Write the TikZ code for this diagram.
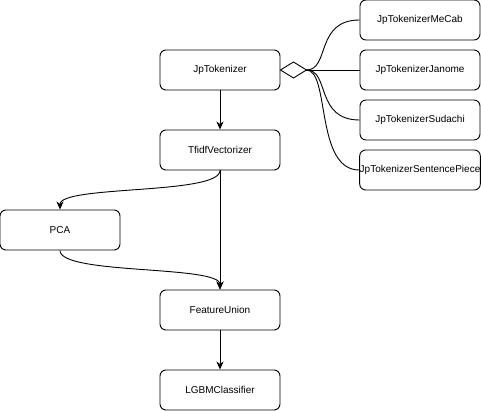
\documentclass[tikz,border=0pt]{standalone}
\usepackage{fontspec}
\setmainfont{Liberation Sans}
\usetikzlibrary{arrows.meta}
\begin{document}
\begin{tikzpicture}[x=1pt,y=-1pt,
  box/.style={draw=black,line width=0.9pt,rounded corners=6pt,minimum width=120pt,minimum height=40pt,inner sep=0pt,font=\fontsize{10}{12}\selectfont,fill=white},
  conn/.style={draw=black,line width=0.9pt},
  arr/.style={conn,-{Stealth[length=8pt,width=7pt,inset=2.5pt]}}]
\useasboundingbox (0,0) rectangle (481,411);
\node[box] (jp) at (220,70) {JpTokenizer};
\node[box] (tfidf) at (220,150) {TfidfVectorizer};
\node[box] (pca) at (60,230) {PCA};
\node[box] (fu) at (220,310) {FeatureUnion};
\node[box] (lgbm) at (220,390) {LGBMClassifier};
\node[box] (mecab) at (420,20) {JpTokenizerMeCab};
\node[box] (janome) at (420,70) {JpTokenizerJanome};
\node[box] (sudachi) at (420,120) {JpTokenizerSudachi};
\node[box] (sp) at (420,170) {JpTokenizerSentencePiece};
% aggregation diamond
\draw[conn,line join=miter] (jp.east) -- ++(13,-8) -- ++(13,8) coordinate (tip) -- ++(-13,8) -- cycle;
\draw[conn] (tip) .. controls (330,70) and (315,20) .. (mecab.west);
\draw[conn] (tip) -- (janome.west);
\draw[conn] (tip) .. controls (330,70) and (315,120) .. (sudachi.west);
\draw[conn] (tip) .. controls (330,70) and (315,170) .. (sp.west);
% pipeline
\draw[arr] (jp.south) -- (tfidf.north);
\draw[arr] (tfidf.south) .. controls (220,195) and (60,185) .. (pca.north);
\draw[arr] (tfidf.south) -- (fu.north);
\draw[arr] (pca.south) .. controls (60,275) and (220,265) .. (fu.north);
\draw[arr] (fu.south) -- (lgbm.north);
\end{tikzpicture}
\end{document}
